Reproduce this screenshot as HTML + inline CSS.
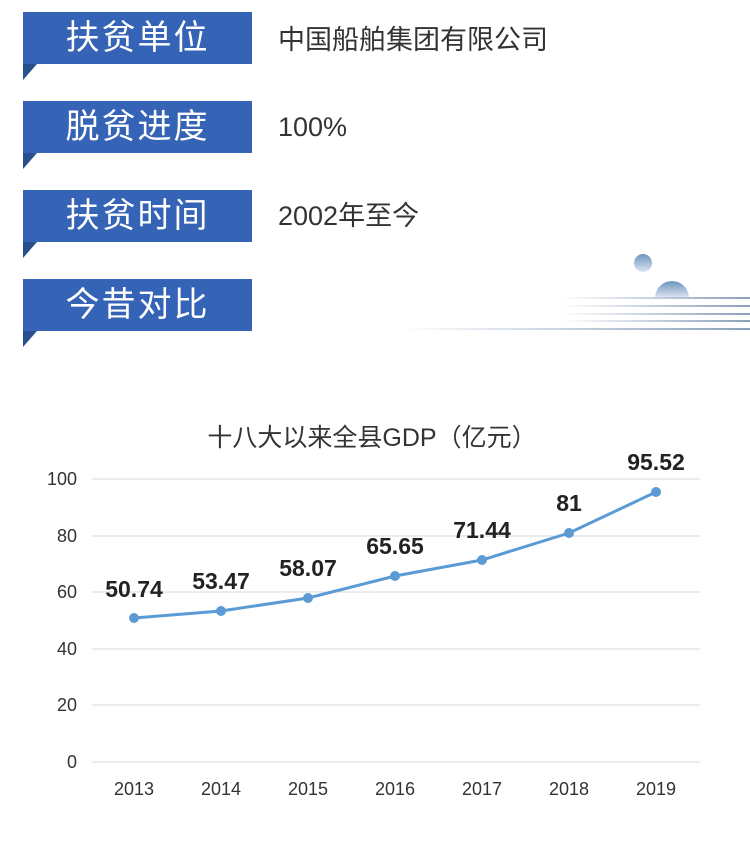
<!DOCTYPE html>
<html><head><meta charset="utf-8"><style>
body{margin:0;width:750px;height:860px;background:#fff;overflow:hidden;position:relative;font-family:"Liberation Sans","Noto Sans CJK SC",sans-serif}
.b{position:absolute;left:23px;width:229px;height:52px;background:#3563b5;color:#fff;font-size:34px;line-height:52px;text-align:center;letter-spacing:2px}
.t{position:absolute;left:23px;width:0;height:0;border-top:16px solid #2a4f8e;border-right:14px solid transparent}
.v{position:absolute;left:278px;font-size:27px;color:#333;line-height:52px}
</style></head><body>
<div class="b" style="top:12px">扶贫单位</div><div class="t" style="top:64px"></div><div class="v" style="top:14px">中国船舶集团有限公司</div>
<div class="b" style="top:101px">脱贫进度</div><div class="t" style="top:153px"></div><div class="v" style="top:101px">100%</div>
<div class="b" style="top:190px">扶贫时间</div><div class="t" style="top:242px"></div><div class="v" style="top:190px">2002年至今</div>
<div class="b" style="top:279px">今昔对比</div><div class="t" style="top:331px"></div>
<svg width="750" height="860" style="position:absolute;left:0;top:0">
<defs>
<linearGradient id="c" x1="0" y1="0" x2="0" y2="1"><stop offset="0" stop-color="#6f93bf"/><stop offset="1" stop-color="#dde6f1"/></linearGradient>
<linearGradient id="l" gradientUnits="userSpaceOnUse" x1="560" y1="0" x2="750" y2="0"><stop offset="0" stop-color="#fff"/><stop offset="1" stop-color="#8aa0ba"/></linearGradient>
<linearGradient id="l2" gradientUnits="userSpaceOnUse" x1="400" y1="0" x2="750" y2="0"><stop offset="0" stop-color="#fff"/><stop offset="1" stop-color="#8aa0ba"/></linearGradient>
</defs>
<circle cx="643" cy="263" r="9" fill="url(#c)"/>
<path d="M655 298 a17 17 0 0 1 34 0z" fill="url(#c)"/>
<g stroke="url(#l)" stroke-width="2"><line x1="560" y1="298" x2="750" y2="298"/><line x1="560" y1="306" x2="750" y2="306"/><line x1="560" y1="314" x2="750" y2="314"/><line x1="560" y1="321" x2="750" y2="321"/></g>
<line x1="400" y1="329" x2="750" y2="329" stroke="url(#l2)" stroke-width="2"/>
<text x="372" y="446" font-size="25" fill="#333" text-anchor="middle">十八大以来全县GDP（亿元）</text>
<g stroke="#d9d9d9" stroke-width="1">
<line x1="92" y1="479" x2="700" y2="479"/><line x1="92" y1="536" x2="700" y2="536"/><line x1="92" y1="592" x2="700" y2="592"/><line x1="92" y1="649" x2="700" y2="649"/><line x1="92" y1="705" x2="700" y2="705"/><line x1="92" y1="762" x2="700" y2="762"/></g>
<g font-size="18" fill="#333" text-anchor="end"><text x="77" y="485">100</text><text x="77" y="542">80</text><text x="77" y="598">60</text><text x="77" y="655">40</text><text x="77" y="711">20</text><text x="77" y="768">0</text></g>
<g font-size="18" fill="#333" text-anchor="middle"><text x="134" y="795">2013</text><text x="221" y="795">2014</text><text x="308" y="795">2015</text><text x="395" y="795">2016</text><text x="482" y="795">2017</text><text x="569" y="795">2018</text><text x="656" y="795">2019</text></g>
<polyline fill="none" stroke="#5b9bd5" stroke-width="3" points="134,618 221,611 308,598 395,576 482,560 569,533 656,492"/>
<g fill="#5b9bd5"><circle cx="134" cy="618" r="5"/><circle cx="221" cy="611" r="5"/><circle cx="308" cy="598" r="5"/><circle cx="395" cy="576" r="5"/><circle cx="482" cy="560" r="5"/><circle cx="569" cy="533" r="5"/><circle cx="656" cy="492" r="5"/></g>
<g font-size="23" fill="#222" text-anchor="middle" font-weight="bold"><text x="134" y="597">50.74</text><text x="221" y="589">53.47</text><text x="308" y="576">58.07</text><text x="395" y="554">65.65</text><text x="482" y="538">71.44</text><text x="569" y="511">81</text><text x="656" y="470">95.52</text></g>
</svg>
</body></html>
